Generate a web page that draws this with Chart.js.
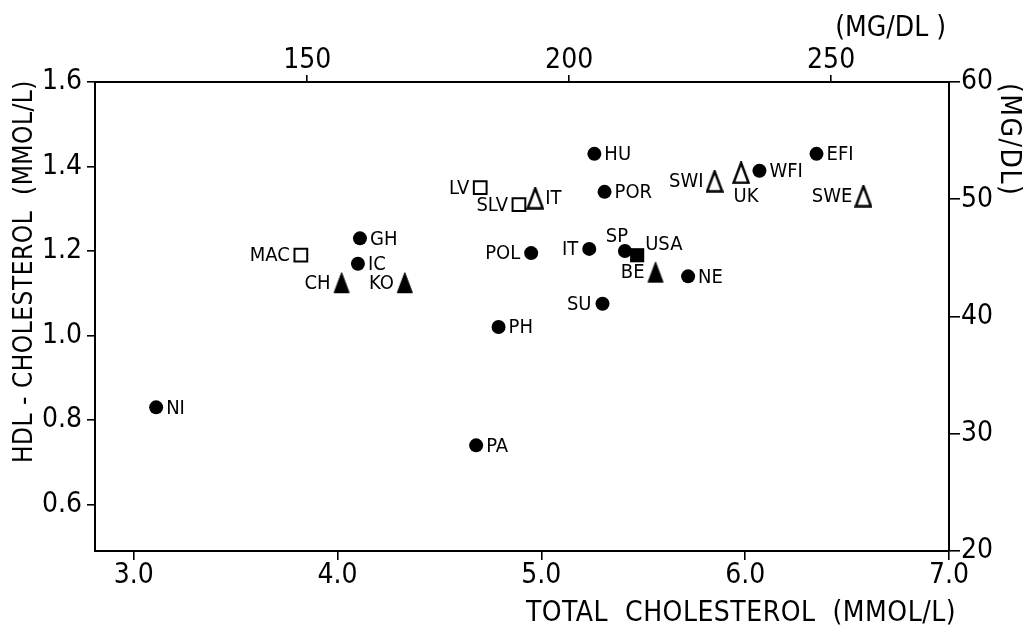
<!DOCTYPE html>
<html>
<head>
<meta charset="utf-8">
<script src="https://cdn.jsdelivr.net/npm/chart.js@4.4.1/dist/chart.umd.min.js"></script>
<style>
  body { margin: 0; background: #fff; }
</style>
</head>
<body>
<canvas id="grafico" width="1023" height="627"></canvas>
<script>
// Datos (colesterol total vs HDL, mmol/L)
const countries = ['NI', 'PA', 'PH', 'GH', 'IC', 'MAC', 'CH', 'KO', 'LV', 'SLV', 'IT', 'POL', 'HU',
                   'POR', 'IT', 'SP', 'USA', 'BE', 'NE', 'SU', 'SWI', 'UK', 'WFI', 'EFI', 'SWE'];
const totalChol = [3.11, 4.68, 4.79, 4.11, 4.10, 3.82, 4.02, 4.33, 4.70, 4.89, 4.97, 4.95, 5.26,
                   5.31, 5.235, 5.41, 5.47, 5.56, 5.72, 5.30, 5.85, 5.98, 6.07, 6.35, 6.58];
const hdlChol = [0.83, 0.74, 1.02, 1.23, 1.17, 1.19, 1.125, 1.125, 1.35, 1.31, 1.325, 1.195, 1.43,
                 1.34, 1.205, 1.20, 1.19, 1.15, 1.14, 1.075, 1.365, 1.385, 1.39, 1.43, 1.33];
const markers = ['dot', 'dot', 'dot', 'dot', 'dot', 'openSquare', 'tri', 'tri', 'openSquare', 'openSquare',
                 'openTri', 'dot', 'dot', 'dot', 'dot', 'dot', 'square', 'tri', 'dot', 'dot',
                 'openTri', 'openTri', 'dot', 'dot', 'openTri'];
const labelSide = ['right', 'right', 'right', 'right', 'right', 'left', 'left', 'left', 'left', 'left',
                   'right', 'left', 'right', 'right', 'left', 'above', 'upright', 'left', 'right', 'left',
                   'left', 'below', 'right', 'right', 'left'];

const xTicks = [3, 4, 5, 6, 7];
const yTicks = [0.6, 0.8, 1.0, 1.2, 1.4, 1.6];
const mgTopTicks = [150, 200, 250];
const mgRightTicks = [20, 30, 40, 50, 60];

const familia = '"Liberation Sans Narrow", "DejaVu Sans Condensed", sans-serif';
const fuenteTicks = { family: familia, size: 28, lineHeight: 1 };

// triangulos (rellenos / vacios) como imagen
function triangulo(relleno) {
  const c = document.createElement('canvas');
  c.width = 18; c.height = 23;
  const g = c.getContext('2d');
  g.beginPath();
  g.moveTo(9, 1.5);
  g.lineTo(16.5, 21.5);
  g.lineTo(1.5, 21.5);
  g.closePath();
  if (relleno) { g.fillStyle = '#000'; g.fill(); }
  g.lineWidth = relleno ? 1 : 2.4;
  g.lineJoin = 'miter';
  g.strokeStyle = '#000';
  g.stroke();
  return c;
}

const estilos = {
  dot:        { pointStyle: 'circle', radius: 7, bg: '#000', bw: 0 },
  openSquare: { pointStyle: 'rect', radius: 9, bg: '#fff', bw: 2 },
  square:     { pointStyle: 'rect', radius: 10, bg: '#000', bw: 0 },
  tri:        { pointStyle: triangulo(true), radius: 10, bg: '#000', bw: 0 },
  openTri:    { pointStyle: triangulo(false), radius: 10, bg: '#fff', bw: 0 }
};

const puntos = countries.map((c, i) => ({
  x: totalChol[i], y: hdlChol[i], name: c, side: labelSide[i], m: markers[i]
}));

const datasets = Object.keys(estilos).map(k => ({
  label: k,
  data: puntos.filter(p => p.m === k),
  pointStyle: estilos[k].pointStyle,
  pointRadius: estilos[k].radius,
  pointBackgroundColor: estilos[k].bg,
  pointBorderColor: '#000',
  pointBorderWidth: estilos[k].bw,
  showLine: false
}));

// etiquetas de cada pais junto al marcador
const etiquetas = {
  id: 'etiquetas',
  afterDatasetsDraw(chart) {
    const ctx = chart.ctx;
    ctx.save();
    ctx.font = '20px ' + familia;
    ctx.fillStyle = '#000';
    ctx.textBaseline = 'middle';
    chart.data.datasets.forEach((ds, di) => {
      chart.getDatasetMeta(di).data.forEach((el, i) => {
        const p = ds.data[i];
        let x = el.x, y = el.y + 1;
        if (p.side === 'right') { ctx.textAlign = 'left'; x += 10; }
        else if (p.side === 'left') { ctx.textAlign = 'right'; x -= 11; }
        else if (p.side === 'above') { ctx.textAlign = 'center'; x -= 8; y -= 15; }
        else if (p.side === 'upright') { ctx.textAlign = 'left'; x += 8; y -= 11; }
        else if (p.side === 'below') { ctx.textAlign = 'center'; x += 5; y += 23; }
        ctx.fillText(p.name, x, y);
      });
    });
    ctx.restore();
  }
};

// titulos de los ejes
const titulos = {
  id: 'titulos',
  afterDraw(chart) {
    const { ctx, chartArea: a } = chart;
    ctx.save();
    ctx.fillStyle = '#000';
    ctx.textBaseline = 'middle';

    ctx.font = '28px ' + familia;
    ctx.letterSpacing = '0.5px';
    ctx.textAlign = 'right';
    ctx.fillText('TOTAL  CHOLESTEROL  (MMOL/L)', a.right + 7, a.bottom + 63);
    ctx.letterSpacing = '0px';
    ctx.fillText('(MG/DL )', a.right - 3, a.top - 53);

    ctx.save();
    ctx.translate(25, a.top - 2);
    ctx.rotate(-Math.PI / 2);
    ctx.font = '26px ' + familia;
    ctx.letterSpacing = '0.5px';
    ctx.textAlign = 'right';
    ctx.fillText('HDL - CHOLESTEROL  (MMOL/L)', 0, 0);
    ctx.restore();

    ctx.save();
    ctx.translate(a.right + 59, a.top + 1);
    ctx.rotate(Math.PI / 2);
    ctx.font = '28px ' + familia;
    ctx.letterSpacing = '1.5px';
    ctx.textAlign = 'left';
    ctx.fillText('(MG/DL)', 0, 0);
    ctx.restore();

    ctx.restore();
  }
};

function eje(pos, min, max, valores, decimales, tick, pad, tam) {
  return {
    type: 'linear',
    position: pos,
    min: min,
    max: max,
    afterBuildTicks: s => { s.ticks = valores.map(v => ({ value: v })); },
    afterFit: s => {
      if (pos === 'top' || pos === 'bottom') s.height = tam; else s.width = tam;
    },
    ticks: {
      autoSkip: false,
      maxRotation: 0,
      color: '#000',
      padding: pad,
      font: fuenteTicks,
      callback: v => decimales ? Number(v).toFixed(1) : String(v)
    },
    grid: { drawOnChartArea: false, drawTicks: true, tickLength: tick, color: '#000', lineWidth: 1.6 },
    border: { display: true, color: '#000', width: 2 }
  };
}

const ctx = document.getElementById('grafico').getContext('2d');

const grafico = new Chart(ctx, {
  type: 'scatter',
  data: { datasets: datasets },
  options: {
    responsive: false,
    animation: false,
    layout: { padding: 0 },
    plugins: {
      legend: { display: false },
      tooltip: { enabled: false }
    },
    scales: {
      x: eje('bottom', 2.81, 7.0, xTicks, true, 9, 2, 76),
      x2: eje('top', 109.5, 272.5, mgTopTicks, false, 7, 0, 82),
      y: eje('left', 0.49, 1.6, yTicks, true, 8, 5, 95),
      y2: eje('right', 20, 60, mgRightTicks, false, 11, 1, 74)
    }
  },
  plugins: [etiquetas, titulos]
});
</script>
</body>
</html>
